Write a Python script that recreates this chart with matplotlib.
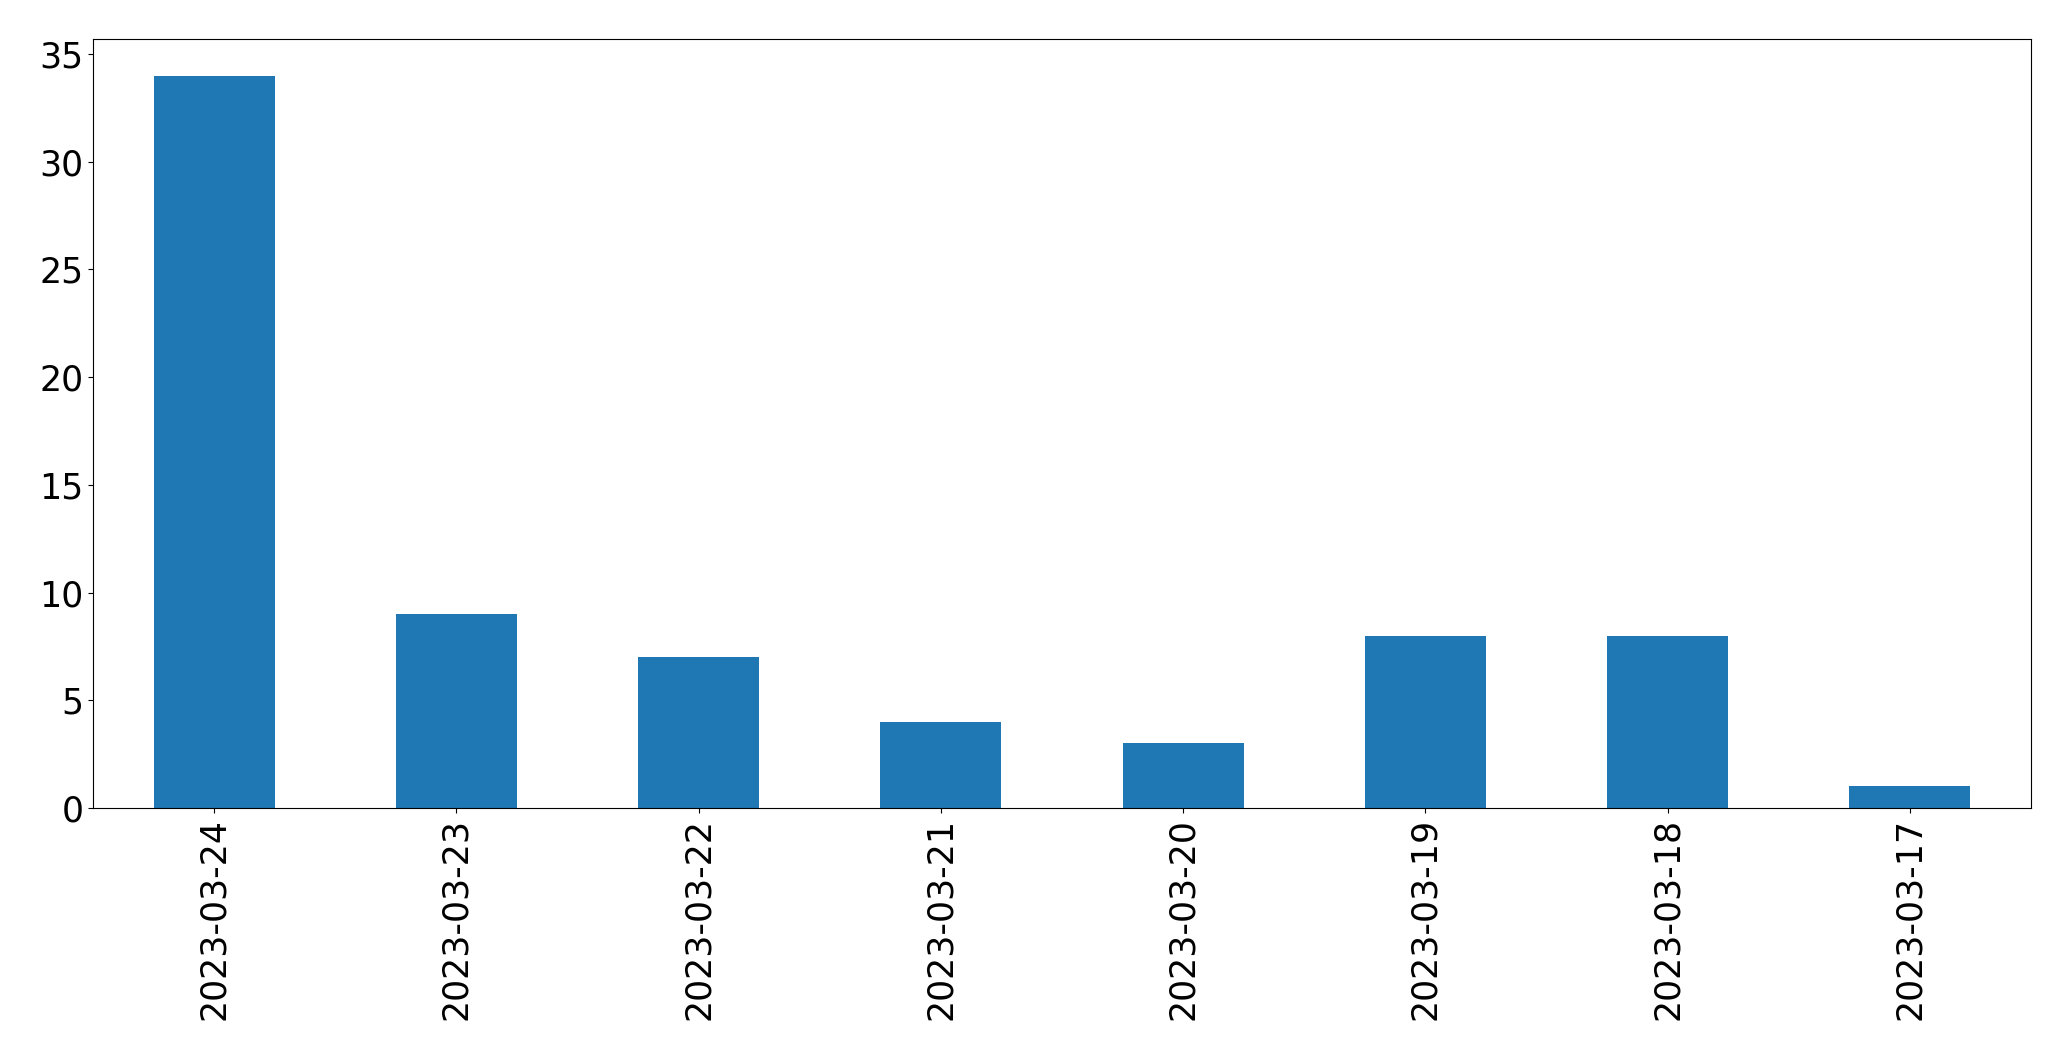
import matplotlib
matplotlib.use("Agg")
import matplotlib.pyplot as plt
import numpy as np

dates = ["2023-03-24", "2023-03-23", "2023-03-22", "2023-03-21",
         "2023-03-20", "2023-03-19", "2023-03-18", "2023-03-17"]
counts = [34, 9, 7, 4, 3, 8, 8, 1]

fig = plt.figure(figsize=(20.71, 10.61), dpi=100)
ax = fig.add_axes([93/2071, 1 - 808/1061, (2031-93)/2071, (808-39)/1061])
x = np.arange(len(dates))
ax.bar(x, counts, width=0.5, color="#1f77b4")
ax.set_xticks(x)
ax.set_xticklabels(dates, rotation=90)
ax.set_xlim(-0.5, len(dates) - 0.5)
ax.tick_params(labelsize=25)
fig.savefig("out.png", dpi=100)
